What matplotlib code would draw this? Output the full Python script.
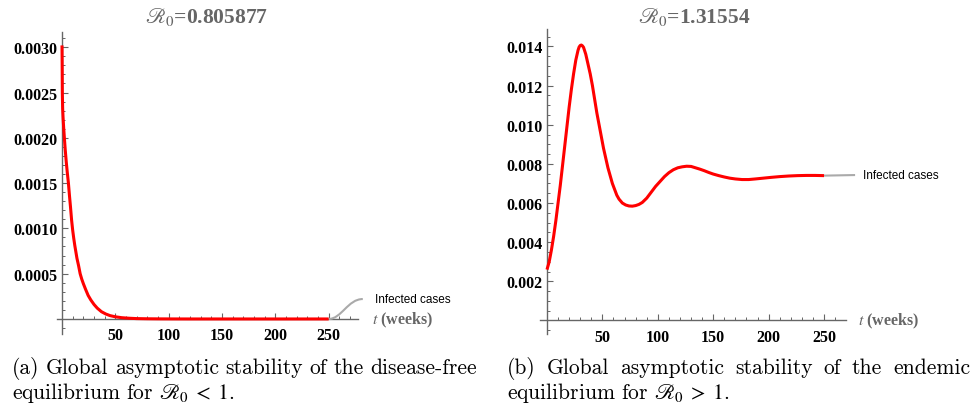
import matplotlib
matplotlib.use("Agg")
import matplotlib.pyplot as plt
from matplotlib.path import Path
from matplotlib.patches import PathPatch
from matplotlib.ticker import MultipleLocator, FixedLocator

plt.rcParams['font.family'] = ['Liberation Serif', 'DejaVu Serif']

# panel (a): R0 < 1, infected cases decay to the disease-free state
t_a = [0, 0.15, 0.3, 0.6, 1.0, 1.5, 2.2, 3, 4, 5, 6, 7, 8, 9, 10, 11, 12, 13, 14, 15.5, 17,
       18.5, 20, 22, 24.5, 27, 30, 33, 37, 41, 45, 50, 56, 63, 70, 80, 90, 105, 120, 250]
inf_a = [0.00302, 0.0028, 0.0025, 0.00232, 0.00222, 0.00212, 0.0020, 0.00187, 0.00173,
         0.00161, 0.0015, 0.00136, 0.00123, 0.00109, 0.00098, 0.00089, 0.00081, 0.00074,
         0.00067, 0.00059, 0.0005, 0.00044, 0.00039, 0.00033, 0.00026, 0.00021, 0.00016,
         0.00012, 0.00008, 0.000055, 0.000037, 0.000024, 0.000014, 0.000008, 0.000004,
         0.000002, 0.000001, 0.0000003, 0.0, 0.0]

# panel (b): R0 > 1, damped oscillation to the endemic state
t_b = [0, 2, 4, 6, 8, 10, 12, 14, 16, 18, 20, 22, 24, 26, 28, 29, 30, 31, 32, 33, 35, 37,
       39, 41, 43, 45, 47, 49, 51, 53, 55, 57, 59, 61, 63, 65, 68, 71, 74, 77, 80, 83, 86,
       90, 94, 98, 102, 106, 110, 114, 118, 122, 126, 130, 134, 138, 142, 146, 150, 155,
       160, 165, 170, 176, 182, 188, 195, 202, 210, 218, 226, 234, 242, 250]
inf_b = [0.0026, 0.0030, 0.0036, 0.0043, 0.0051, 0.0060, 0.0069, 0.0079, 0.0089, 0.0099,
         0.0109, 0.0118, 0.0126, 0.0133, 0.0138, 0.01397, 0.01405, 0.01407, 0.01403, 0.01395,
         0.0136, 0.0131, 0.0126, 0.0120, 0.0113, 0.0106, 0.0100, 0.0094, 0.0088, 0.0083,
         0.0078, 0.0074, 0.0070, 0.0067, 0.0064, 0.0062, 0.00600, 0.0059, 0.00585, 0.00584,
         0.00587, 0.00593, 0.00603, 0.00625, 0.00655, 0.00685, 0.0071, 0.00735, 0.00755,
         0.0077, 0.0078, 0.00785, 0.00788, 0.00787, 0.0078, 0.00773, 0.00765, 0.00756,
         0.00748, 0.0074, 0.00733, 0.00727, 0.00723, 0.0072, 0.0072, 0.00723, 0.00727,
         0.00731, 0.00735, 0.00738, 0.0074, 0.00741, 0.00741, 0.0074]

titles = [r"$\mathscr{R}_0$=0.805877", r"$\mathscr{R}_0$=1.31554"]
xticks = [50, 100, 150, 200, 250]
yticks_a = [0.0005, 0.0010, 0.0015, 0.0020, 0.0025, 0.0030]
ylabels_a = ["0.0005", "0.0010", "0.0015", "0.0020", "0.0025", "0.0030"]
yticks_b = [0.002, 0.004, 0.006, 0.008, 0.010, 0.012, 0.014]
ylabels_b = ["0.002", "0.004", "0.006", "0.008", "0.010", "0.012", "0.014"]
series_label = "Infected cases"
xlabel = "(weeks)"
captions = [
    ("(a) Global asymptotic stability of the disease-free",
     r"equilibrium for $\mathscr{R}_0\;<\;1$."),
    ("(b) Global asymptotic stability of the endemic",
     r"equilibrium for $\mathscr{R}_0\;>\;1$."),
]

W, H = 973, 410
fig = plt.figure(figsize=(W / 100, H / 100), dpi=100)

AX_COL = '#666666'
GRAY = '#666666'


def px_box(x0, y0, x1, y1):
    return [x0 / W, 1 - y1 / H, (x1 - x0) / W, (y1 - y0) / H]


def style_axes(ax, yt, yl, yminor):
    for s in ['top', 'right']:
        ax.spines[s].set_visible(False)
    for s in ['left', 'bottom']:
        ax.spines[s].set_position(('data', 0))
        ax.spines[s].set_color(AX_COL)
        ax.spines[s].set_linewidth(1.0)
    ax.xaxis.set_major_locator(FixedLocator(xticks))
    ax.set_xticklabels([str(v) for v in xticks])
    ax.xaxis.set_minor_locator(MultipleLocator(10))
    ax.yaxis.set_major_locator(FixedLocator(yt))
    ax.set_yticklabels(yl)
    ax.yaxis.set_minor_locator(MultipleLocator(yminor))
    ax.tick_params(which='major', direction='in', length=4, width=0.8, color=AX_COL,
                   labelsize=11.5, labelcolor='black')
    ax.tick_params(which='minor', direction='in', length=2.5, width=0.7, color=AX_COL)
    ax.tick_params(axis='x', pad=6)
    ax.tick_params(axis='y', pad=3)
    for lab in ax.get_xticklabels() + ax.get_yticklabels():
        lab.set_fontweight('bold')
    ax.patch.set_visible(False)


def callout(ax, p0, p1, c0, c1):
    path = Path([p0, c0, c1, p1], [Path.MOVETO, Path.CURVE4, Path.CURVE4, Path.CURVE4])
    ax.add_patch(PathPatch(path, fc='none', ec='#aaaaaa', lw=1.5, clip_on=False, zorder=3))


# ---- panel (a)
ax1 = fig.add_axes(px_box(57, 33, 358, 335))
ax1.plot(t_a, inf_a, color='red', lw=2.2, solid_capstyle='butt', solid_joinstyle='round', zorder=4)
ax1.set_xlim(-4.7, 277.5)
ax1.set_ylim(-0.000166, 0.003168)
style_axes(ax1, yticks_a, ylabels_a, 0.0001)
callout(ax1, (250, 0), (282, 0.00022), (262, 0.0), (268, 0.00022))
ax1.text(293.5, 0.00022, series_label, family='Liberation Sans', fontsize=8.5,
         va='center', ha='left', clip_on=False)
ax1.text(290.5, 0.0, r"$t$ " + xlabel, color=GRAY, fontsize=11.5, fontweight='bold',
         va='center', ha='left', math_fontfamily='stix', clip_on=False)

# ---- panel (b)
ax2 = fig.add_axes(px_box(540, 30, 846, 335))
ax2.plot(t_b, inf_b, color='red', lw=2.2, solid_capstyle='butt', solid_joinstyle='round', zorder=4)
ax2.set_xlim(-6.3, 269.8)
ax2.set_ylim(-0.00069, 0.01489)
style_axes(ax2, yticks_b, ylabels_b, 0.0005)
callout(ax2, (250, 0.0074), (278, 0.00743), (260, 0.0074), (268, 0.00743))
ax2.text(285, 0.00743, series_label, family='Liberation Sans', fontsize=8.5,
         va='center', ha='left', clip_on=False)
ax2.text(280.6, 0.0, r"$t$ " + xlabel, color=GRAY, fontsize=11.5, fontweight='bold',
         va='center', ha='left', math_fontfamily='stix', clip_on=False)

# ---- titles
for xc, title in zip([207, 694], titles):
    fig.text(xc / W, 1 - 17 / H, title, color=GRAY, fontsize=15.5, fontweight='bold',
             ha='center', va='center', math_fontfamily='stix')


# ---- captions (first line justified, like LaTeX)
def justified(words, x0, x1, y, **kw):
    texts = [fig.text(0, y, w, ha='left', va='baseline', **kw) for w in words]
    fig.canvas.draw()
    r = fig.canvas.get_renderer()
    widths = [t.get_window_extent(r).width for t in texts]
    gap = ((x1 - x0) - sum(widths)) / (len(words) - 1)
    x = x0
    for t, w in zip(texts, widths):
        t.set_x(x / W)
        x += w + gap


cap_kw = dict(family='cmr10', fontsize=15.5, math_fontfamily='stix')
for (line1, line2), (x0, x1) in zip(captions, [(12, 477), (507, 970)]):
    justified(line1.split(), x0, x1, 1 - 374 / H, **cap_kw)
    fig.text(x0 / W, 1 - 399 / H, line2, ha='left', va='baseline', **cap_kw)

fig.savefig("out.png", dpi=100)
